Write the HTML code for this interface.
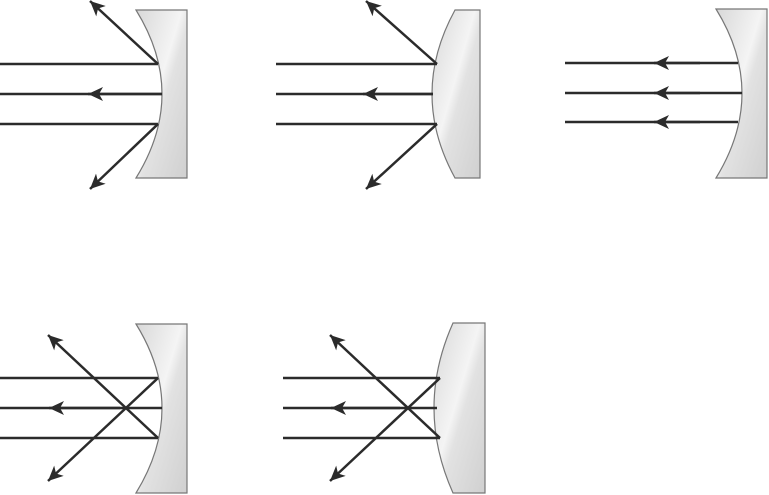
<!DOCTYPE html>
<html><head><meta charset="utf-8"><style>html,body{margin:0;padding:0;background:#fff}svg{display:block}</style></head>
<body>
<svg width="769" height="495" viewBox="0 0 769 495" xmlns="http://www.w3.org/2000/svg">
<defs>
<linearGradient id="g" x1="0" y1="0" x2="1" y2="1">
<stop offset="0" stop-color="#d8d8d8"/><stop offset="0.45" stop-color="#f4f4f4"/><stop offset="0.55" stop-color="#e2e2e2"/><stop offset="1" stop-color="#d0d0d0"/>
</linearGradient>
<marker id="a" markerUnits="userSpaceOnUse" markerWidth="20" markerHeight="20" refX="15" refY="7" orient="auto" viewBox="0 0 20 14">
<path d="M0,0 L15,7 L0,14 L4,7 Z" fill="#2b2b2b"/>
</marker>
</defs>
<g stroke="#777" stroke-width="1.2" fill="url(#g)">
<!-- concave mirrors -->
<path d="M136,10 L187,10 L187,178 L136,178 Q188,94 136,10 Z"/>
<path d="M716,9 L767,9 L767,178 L716,178 Q768,93 716,9 Z"/>
<path d="M136,324 L187,324 L187,493 L136,493 Q188,408 136,324 Z"/>
<!-- convex mirrors -->
<path d="M455,10 L480,10 L480,178 L455,178 Q409,94 455,10 Z"/>
<path d="M453,323 L485,323 L485,493 L453,493 Q415,408 453,323 Z"/>
</g>
<g stroke="#2b2b2b" stroke-width="2.5" fill="none">
<!-- panel 1 -->
<line x1="0" y1="64" x2="158" y2="64"/>
<line x1="0" y1="94" x2="162" y2="94"/>
<line x1="0" y1="124" x2="158" y2="124"/>
<line x1="162" y1="94" x2="88" y2="94" marker-end="url(#a)"/>
<line x1="158" y1="64" x2="90" y2="1" marker-end="url(#a)"/>
<line x1="158" y1="124" x2="90" y2="189" marker-end="url(#a)"/>
<!-- panel 2 -->
<line x1="276" y1="64" x2="437" y2="64"/>
<line x1="276" y1="94" x2="433" y2="94"/>
<line x1="276" y1="124" x2="437" y2="124"/>
<line x1="433" y1="94" x2="363" y2="94" marker-end="url(#a)"/>
<line x1="437" y1="64" x2="366" y2="1" marker-end="url(#a)"/>
<line x1="437" y1="124" x2="366" y2="189" marker-end="url(#a)"/>
<!-- panel 3 -->
<line x1="565" y1="63" x2="738" y2="63"/>
<line x1="565" y1="93" x2="742" y2="93"/>
<line x1="565" y1="122" x2="738" y2="122"/>
<line x1="700" y1="63" x2="654" y2="63" marker-end="url(#a)"/>
<line x1="700" y1="93" x2="654" y2="93" marker-end="url(#a)"/>
<line x1="700" y1="122" x2="654" y2="122" marker-end="url(#a)"/>
<!-- panel 4 -->
<line x1="0" y1="378" x2="158" y2="378"/>
<line x1="0" y1="408" x2="162" y2="408"/>
<line x1="0" y1="438" x2="158" y2="438"/>
<line x1="120" y1="408" x2="49" y2="408" marker-end="url(#a)"/>
<line x1="158" y1="438" x2="48" y2="335" marker-end="url(#a)"/>
<line x1="158" y1="378" x2="48" y2="481" marker-end="url(#a)"/>
<!-- panel 5 -->
<line x1="283" y1="378" x2="440" y2="378"/>
<line x1="283" y1="408" x2="437" y2="408"/>
<line x1="283" y1="438" x2="440" y2="438"/>
<line x1="400" y1="408" x2="331" y2="408" marker-end="url(#a)"/>
<line x1="440" y1="438" x2="330" y2="335" marker-end="url(#a)"/>
<line x1="440" y1="378" x2="330" y2="481" marker-end="url(#a)"/>
</g>
</svg>
</body></html>
